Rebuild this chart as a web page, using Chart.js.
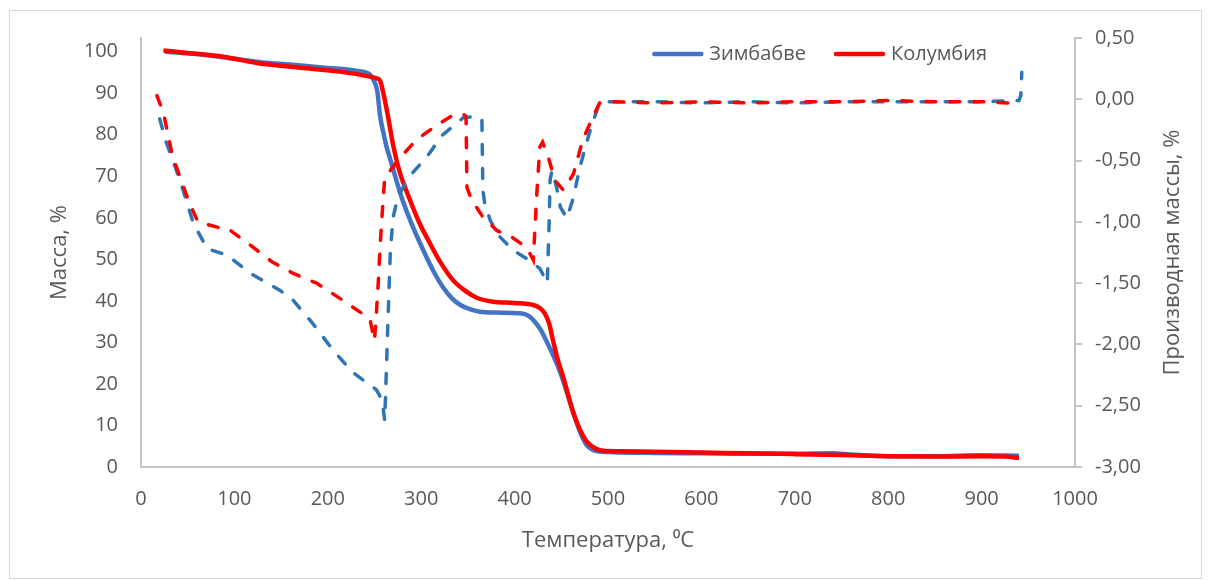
<!DOCTYPE html>
<html>
<head>
<meta charset="utf-8">
<script src="https://cdn.jsdelivr.net/npm/chart.js@4/dist/chart.umd.min.js"></script>
<style>
  body { margin: 0; background: #fff; }
  #frame { position: absolute; left: 9px; top: 10px; width: 1191px; height: 567px; border: 1px solid #d9d9d9; }
  #wrap { position: absolute; left: 0; top: 0; width: 1210px; height: 580px; }
</style>
</head>
<body>
<div id="frame"></div>
<div id="wrap"><canvas id="tga-chart"></canvas></div>
<script>
// mass curves (left axis), temperature in C
var tempZimMass = [26, 50, 80, 100, 130, 160, 200, 230, 245, 248, 253, 256, 260, 263, 267, 275, 280, 290, 302, 313, 323, 333, 342, 352, 363, 380, 406, 415, 420, 428, 435, 442, 449, 456, 463, 470, 477, 484, 491, 500, 513, 550, 600, 650, 700, 740, 760, 800, 850, 900, 940];
var massZim = [100.0, 99.6, 98.9, 98.3, 97.4, 96.9, 96.1, 95.4, 94.5, 93.6, 90.5, 84.5, 80.0, 77.0, 74.0, 67.8, 64.3, 58.4, 52.3, 47.2, 43.4, 40.6, 39.0, 38.0, 37.4, 37.2, 37.0, 36.4, 35.4, 33.0, 29.9, 26.5, 22.7, 18.0, 13.0, 8.5, 5.3, 4.1, 3.7, 3.6, 3.5, 3.4, 3.3, 3.2, 3.2, 3.3, 3.0, 2.6, 2.6, 2.8, 2.7];

var tempColMass = [24, 50, 88, 124, 160, 213, 245, 252, 256, 259, 264, 270, 277, 288, 298, 309, 320, 334, 348, 360, 377, 400, 420, 427, 432, 437, 441, 446, 452, 458, 463, 470, 476, 481, 488, 495, 513, 550, 600, 650, 700, 750, 800, 850, 900, 925, 940];
var massCol = [100.3, 99.7, 98.8, 97.3, 96.4, 95.2, 94.0, 93.6, 93.0, 90.5, 85.0, 77.5, 71.0, 64.3, 58.8, 54.0, 49.5, 45.0, 42.3, 40.7, 39.8, 39.5, 39.0, 38.3, 37.1, 34.5, 30.6, 26.0, 21.7, 16.8, 13.0, 9.0, 6.5, 5.3, 4.3, 3.9, 3.8, 3.7, 3.5, 3.3, 3.1, 2.9, 2.6, 2.5, 2.6, 2.5, 2.2];

// derivative curves (right axis)
var tempZimDer = [20, 27, 38, 45, 56, 71, 92, 117, 149, 163, 184, 206, 227, 252, 258, 261, 264, 267, 270, 275, 286, 306, 323, 345, 360, 365, 366, 368, 374, 384, 398, 413, 427, 435, 437, 438, 440, 445, 449, 456, 463, 470, 481, 489, 495, 550, 600, 650, 700, 750, 800, 850, 900, 940, 942, 943];
var derZim = [-0.16, -0.35, -0.58, -0.74, -1.01, -1.22, -1.27, -1.42, -1.56, -1.64, -1.83, -2.05, -2.23, -2.37, -2.45, -2.62, -1.9, -1.23, -0.96, -0.80, -0.64, -0.47, -0.29, -0.15, -0.14, -0.16, -0.74, -0.85, -0.99, -1.12, -1.23, -1.30, -1.38, -1.50, -1.0, -0.66, -0.58, -0.72, -0.88, -0.97, -0.80, -0.55, -0.25, -0.07, -0.02, -0.02, -0.03, -0.02, -0.03, -0.02, -0.02, -0.02, -0.02, -0.01, 0.03, 0.22];

var tempColDer = [17, 24, 34, 52, 61, 85, 92, 117, 141, 163, 188, 216, 245, 250, 252, 254, 256, 258, 261, 267, 277, 295, 317, 334, 345, 348, 349, 354, 366, 381, 398, 413, 420, 424, 427, 430, 436, 443, 452, 463, 473, 484, 491, 502, 550, 600, 650, 700, 750, 800, 850, 900, 930, 940];
var derCol = [0.03, -0.11, -0.47, -0.85, -1.0, -1.05, -1.05, -1.19, -1.33, -1.42, -1.50, -1.64, -1.79, -1.97, -1.75, -1.5, -1.2, -0.96, -0.63, -0.58, -0.48, -0.33, -0.21, -0.13, -0.12, -0.14, -0.72, -0.82, -0.96, -1.07, -1.13, -1.21, -1.31, -0.74, -0.39, -0.35, -0.47, -0.66, -0.74, -0.61, -0.33, -0.14, -0.03, -0.02, -0.03, -0.02, -0.03, -0.02, -0.02, -0.01, -0.02, -0.02, -0.03, 0.0];

var seriesNames = ["Зимбабве", "Колумбия"];
var seriesColors = ["#4472C4", "#FF0000"];
var xTitle = "Температура, \u2070С";
var yTitle = "Масса, %";
var y2Title = "Производная массы, %";

var textColor = "#595959";
var axisColor = "#c4c4c4";
var fontName = "'Open Sans', sans-serif";

var toPoints = (xs, ys) => xs.map((x, i) => ({ x: x, y: ys[i] }));

// right axis title reads bottom-to-top (Excel style) + line legend in the plot
const overlay = {
  id: "overlay",
  afterDraw(chart) {
    const ctx = chart.ctx;
    const y2 = chart.scales.y2;
    ctx.save();
    ctx.fillStyle = textColor;
    ctx.font = "22px " + fontName;
    ctx.textAlign = "center";
    ctx.textBaseline = "middle";
    ctx.translate(y2.right - 37, (y2.top + y2.bottom) / 2);
    ctx.rotate(-Math.PI / 2);
    ctx.fillText(y2Title, 0, 0);
    ctx.restore();

    // legend
    ctx.save();
    ctx.font = "20px " + fontName;
    ctx.textBaseline = "middle";
    ctx.textAlign = "left";
    const lineLen = 51, gapText = 6, gapItem = 28, legendY = 54, legendEnd = 987;
    const widths = seriesNames.map((s) => ctx.measureText(s).width);
    let total = 0;
    widths.forEach((w, i) => { total += lineLen + gapText + w + (i > 0 ? gapItem : 0); });
    let x = legendEnd - total;
    seriesNames.forEach((name, i) => {
      ctx.strokeStyle = seriesColors[i];
      ctx.lineWidth = 4.5;
      ctx.lineCap = "round";
      ctx.beginPath();
      ctx.moveTo(x + 2, legendY);
      ctx.lineTo(x + lineLen - 2, legendY);
      ctx.stroke();
      ctx.fillStyle = textColor;
      ctx.fillText(name, x + lineLen + gapText, legendY);
      x += lineLen + gapText + widths[i] + gapItem;
    });
    ctx.restore();
  }
};

const dataset = {
  datasets: [
    {
      label: seriesNames[0],
      data: toPoints(tempZimMass, massZim),
      borderColor: seriesColors[0],
      backgroundColor: seriesColors[0],
      borderWidth: 4.5,
      yAxisID: "y",
      cubicInterpolationMode: "monotone",
      order: 3
    }, {
      label: seriesNames[1],
      data: toPoints(tempColMass, massCol),
      borderColor: seriesColors[1],
      backgroundColor: seriesColors[1],
      borderWidth: 4.5,
      yAxisID: "y",
      cubicInterpolationMode: "monotone",
      order: 2
    }, {
      label: seriesNames[0] + " dm",
      data: toPoints(tempZimDer, derZim),
      borderColor: "#2E75B6",
      backgroundColor: "#2E75B6",
      borderWidth: 3.5,
      borderDash: [10, 14],
      borderCapStyle: "round",
      yAxisID: "y2",
      order: 1
    }, {
      label: seriesNames[1] + " dm",
      data: toPoints(tempColDer, derCol),
      borderColor: "#FF0000",
      backgroundColor: "#FF0000",
      borderWidth: 3.5,
      borderDash: [10, 14],
      borderCapStyle: "round",
      yAxisID: "y2",
      order: 0
    }
  ]
};

const config = {
  type: "line",
  data: dataset,
  options: {
    responsive: true,
    maintainAspectRatio: false,
    animation: false,
    devicePixelRatio: 1,
    elements: { point: { radius: 0 } },
    layout: { padding: { top: 38, left: 0, right: 0, bottom: 0 } },
    plugins: {
      tooltip: { enabled: false },
      legend: { display: false }
    },
    scales: {
      x: {
        type: "linear",
        min: 0,
        max: 1000,
        afterFit: (scale) => { scale.height = 113; },
        ticks: {
          stepSize: 100, color: textColor, padding: 20, maxRotation: 0,
          font: { family: fontName, size: 20 },
          callback: (v) => String(v)
        },
        grid: { drawOnChartArea: false, drawTicks: false },
        border: { color: axisColor, width: 2 },
        title: { display: true, text: xTitle, color: textColor, font: { family: fontName, size: 22 }, padding: { bottom: 26 } }
      },
      y: {
        position: "left",
        min: 0,
        max: 103.3,
        afterFit: (scale) => { scale.width = 141; },
        ticks: { stepSize: 10, includeBounds: false, color: textColor, padding: 23, font: { family: fontName, size: 20 } },
        grid: { drawOnChartArea: false, drawTicks: false },
        border: { color: axisColor, width: 2 },
        title: { display: true, text: yTitle, color: textColor, font: { family: fontName, size: 22 }, padding: { top: 47 } }
      },
      y2: {
        position: "right",
        min: -3,
        max: 0.5,
        afterFit: (scale) => { scale.width = 135; },
        ticks: {
          stepSize: 0.5,
          color: textColor,
          padding: 13,
          font: { family: fontName, size: 20 },
          callback: (v) => v.toFixed(2).replace(".", ",")
        },
        grid: { drawOnChartArea: false, drawTicks: true, tickLength: 7, color: axisColor, lineWidth: 2 },
        border: { color: axisColor, width: 2 },
        title: { display: false }
      }
    }
  },
  plugins: [overlay]
};

var tgaChart = new Chart(document.getElementById("tga-chart"), config);
</script>
</body>
</html>
